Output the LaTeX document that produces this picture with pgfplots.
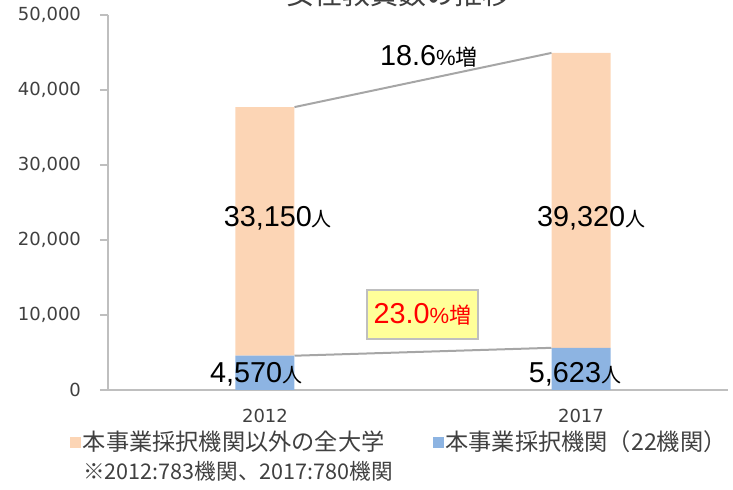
\documentclass[border=0pt]{standalone}
\usepackage{fontspec}
\setmainfont{Liberation Sans}
\newfontfamily\cjk{Noto Sans CJK JP}
\newfontfamily\dejavu{DejaVu Sans}
\usepackage{pgfplots}
\pgfplotsset{compat=1.18}
\definecolor{peach}{HTML}{FCD5B5}
\definecolor{bluebar}{HTML}{8DB4E2}
\definecolor{axisgray}{HTML}{BFBFBF}
\definecolor{linegray}{HTML}{A6A6A6}
\definecolor{txt}{HTML}{404040}
\definecolor{boxfill}{HTML}{FFFF99}
\pgfplotsset{common/.style={width=310pt,height=187.5pt,scale only axis,
  xmin=-0.4968,xmax=1.4652,ymin=0,ymax=50000,enlargelimits=false,
  at={(0pt,0pt)},anchor=south west}}
\begin{document}
\begin{tikzpicture}
\path[use as bounding box] (-54pt,-50pt) rectangle (312.5pt,195pt);
\begin{axis}[common, ybar stacked, bar width=29.5pt,
  axis x line*=bottom, axis y line*=left,
  axis line style={axisgray,line width=1pt},
  ytick={0,10000,...,50000}, scaled y ticks=false,
  /pgf/number format/1000 sep={,},
  /pgf/number format/assume math mode=true,
  tick label style={font=\dejavu\fontsize{9}{11}\selectfont,text=txt},
  yticklabel style={xshift=-6pt},
  xticklabel style={yshift=-2pt},
  xtick={0,1}, xticklabels={2012,2017},
  x tick style={draw=none},
  y tick style={axisgray,line width=1pt},
  major tick length=4pt, tick align=outside,
  reverse legend,
  legend columns=2,
  legend style={at={(-0.0613,-0.1387)},anchor=west,draw=none,fill=none,
    inner sep=0pt,outer sep=0pt,
    font=\cjk\fontsize{11.6}{13}\selectfont,text=txt,
    /tikz/every even column/.append style={column sep=23pt},
    nodes={inner xsep=1pt}},
  legend image code/.code={\fill[#1] (0pt,-2.75pt) rectangle (5.5pt,2.75pt);},
]
\addplot[fill=bluebar,draw=none] coordinates {(0,4570) (1,5623)};
\addlegendentry{本事業採択機関（22機関）}
\addplot[fill=peach,draw=none] coordinates {(0,33150) (1,39320)};
\addlegendentry{本事業採択機関以外の全大学}
\end{axis}
\begin{axis}[common, hide axis, clip=false]
\addplot[linegray,line width=1pt] coordinates {(0.0934,37720) (0.9066,44943)};
\addplot[linegray,line width=1pt] coordinates {(0.0934,4570) (0.9066,5623)};
\node[anchor=base] at (axis cs:0.041,21733) {\fontsize{14.4}{16}\selectfont 33,150{\cjk\fontsize{10}{12}\selectfont 人}};
\node[anchor=base] at (axis cs:1.032,21733) {\fontsize{14.4}{16}\selectfont 39,320{\cjk\fontsize{10}{12}\selectfont 人}};
\node[anchor=base] at (axis cs:-0.028,933) {\fontsize{14.4}{16}\selectfont 4,570{\cjk\fontsize{10}{12}\selectfont 人}};
\node[anchor=base] at (axis cs:0.981,933) {\fontsize{14.4}{16}\selectfont 5,623{\cjk\fontsize{10}{12}\selectfont 人}};
\node[anchor=base] at (axis cs:0.519,43200) {\fontsize{14.4}{16}\selectfont 18.6{\fontsize{11}{13}\selectfont\%}{\cjk\fontsize{11}{13}\selectfont 増}};
\node[fill=boxfill,draw=axisgray,line width=1pt,minimum width=55.5pt,minimum height=24.5pt,inner sep=0pt,text=red]
  at (axis cs:0.498,10067) {\fontsize{14.4}{16}\selectfont 23.0{\fontsize{11}{13}\selectfont\%}{\cjk\fontsize{11}{13}\selectfont 増}};
\end{axis}
\node[anchor=base,text=txt] at (145pt,192.5pt) {\cjk\fontsize{14}{16}\selectfont 女性教員数の推移};
\node[anchor=west,text=txt,inner sep=0pt] at (-12.5pt,-40.5pt) {\cjk\fontsize{10.8}{13}\selectfont ※2012:783機関、2017:780機関};
\end{tikzpicture}
\end{document}
